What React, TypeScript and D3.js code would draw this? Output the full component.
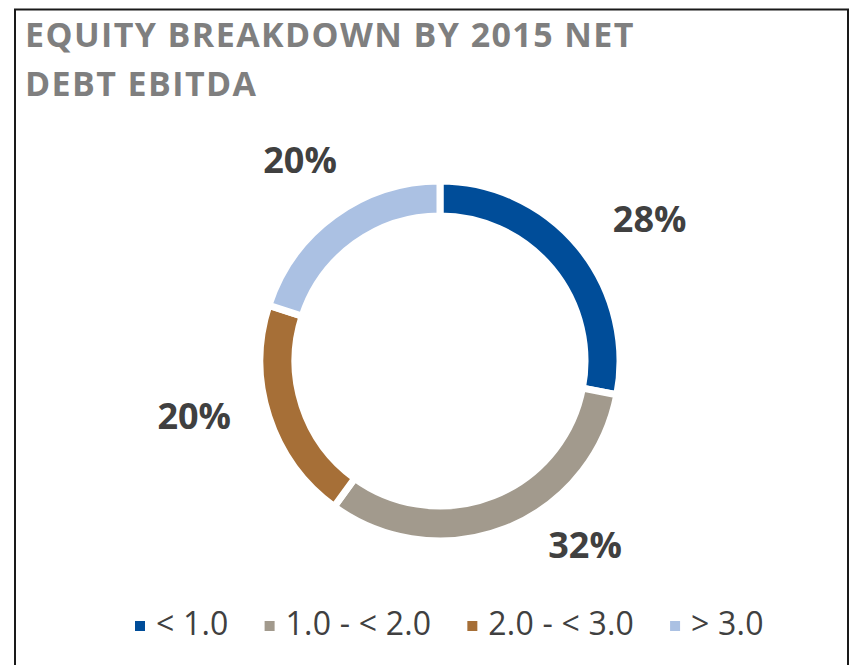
import React, { useEffect, useRef } from "react";
import * as d3 from "d3";

const categories = ["< 1.0", "1.0 - < 2.0", "2.0 - < 3.0", "> 3.0"];
const values = [28, 32, 20, 20];
const colors = ["#004D99", "#A29A8D", "#A66F37", "#ABC1E3"];
const titleLines = ["EQUITY BREAKDOWN BY 2015 NET", "DEBT EBITDA"];

// label nudges (layout), relative to the label arc centroid
const labelNudges: [number, number][] = [
  [17, 17],
  [53, -48],
  [-8, -22],
  [7, 1],
];

const W = 850;
const H = 665;
const CX = 440;
const CY = 361;
const R_OUT = 180;
const R_IN = 145;
const R_LABEL = 250;

export default function App() {
  const ref = useRef<SVGSVGElement>(null);

  useEffect(() => {
    const svg = d3.select(ref.current);
    svg.selectAll("*").remove();

    svg
      .append("rect")
      .attr("x", 15)
      .attr("y", 9.5)
      .attr("width", 833)
      .attr("height", 700)
      .attr("fill", "#fff")
      .attr("stroke", "#1a1a1a")
      .attr("stroke-width", 2);

    const title = svg
      .append("text")
      .attr("font-family", "'Open Sans', sans-serif")
      .attr("font-weight", 700)
      .attr("font-size", 34)
      .attr("letter-spacing", 1.4)
      .attr("fill", "#7F7F7F");
    titleLines.forEach((t, i) => {
      title
        .append("tspan")
        .attr("x", 25)
        .attr("y", 47 + i * 49)
        .text(t);
    });

    const pie = d3
      .pie<number>()
      .sort(null)
      .value((d) => d);
    const arcs = pie(values);
    const arc = d3.arc<d3.PieArcDatum<number>>().innerRadius(R_IN).outerRadius(R_OUT);
    const labelArc = d3
      .arc<d3.PieArcDatum<number>>()
      .innerRadius(R_LABEL)
      .outerRadius(R_LABEL);

    const g = svg.append("g").attr("transform", `translate(${CX},${CY})`);
    g.selectAll("path.slice")
      .data(arcs)
      .join("path")
      .attr("class", "slice")
      .attr("d", arc as any)
      .attr("fill", (_, i) => colors[i])
      .attr("stroke", "#fff")
      .attr("stroke-width", 7)
      .attr("stroke-linejoin", "miter");

    const total = d3.sum(values);
    g.selectAll("text.lbl")
      .data(arcs)
      .join("text")
      .attr("class", "lbl")
      .attr("x", (d, i) => labelArc.centroid(d)[0] + labelNudges[i][0])
      .attr("y", (d, i) => labelArc.centroid(d)[1] + labelNudges[i][1] + 13)
      .attr("text-anchor", "middle")
      .attr("font-family", "'Open Sans', sans-serif")
      .attr("font-weight", 700)
      .attr("font-size", 36)
      .attr("fill", "#404040")
      .text((d) => `${Math.round((d.value / total) * 100)}%`);

    // legend
    const lg = svg.append("g");
    let x = 135;
    categories.forEach((c, i) => {
      lg.append("rect")
        .attr("x", x)
        .attr("y", 621)
        .attr("width", 10)
        .attr("height", 10)
        .attr("fill", colors[i]);
      const t = lg
        .append("text")
        .attr("x", x + 21)
        .attr("y", 635)
        .attr("font-family", "'Open Sans', sans-serif")
        .attr("font-size", 32)
        .attr("letter-spacing", 0.2)
        .attr("fill", "#404040")
        .text(c);
      const w = (t.node() as SVGTextElement).getComputedTextLength();
      x = x + 21 + w + 36;
    });
  }, []);

  return (
    <svg
      ref={ref}
      width={W}
      height={H}
      style={{ position: "absolute", left: 0, top: 0, background: "#fff" }}
    />
  );
}
